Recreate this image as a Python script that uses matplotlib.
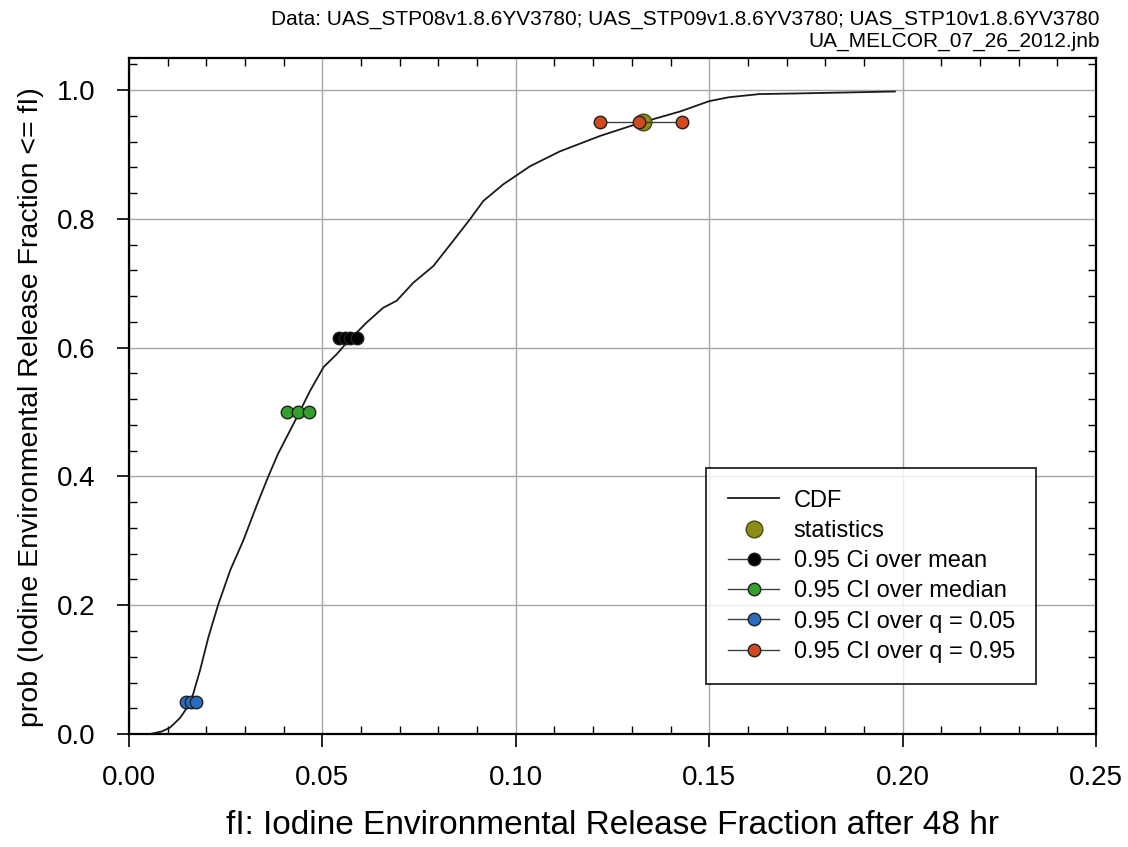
import matplotlib

matplotlib.use("Agg")
import matplotlib.pyplot as plt
from matplotlib.ticker import MultipleLocator

plt.rcParams["font.family"] = ["Liberation Sans", "DejaVu Sans"]

# CDF of iodine release fraction
cdf_x = [0.0054, 0.0085, 0.0106, 0.0132, 0.0160, 0.0184, 0.0205, 0.0230, 0.0262,
         0.0295, 0.0330, 0.0360, 0.0385, 0.0403, 0.0434, 0.0468, 0.0503, 0.0537,
         0.0563, 0.0614, 0.0657, 0.0692, 0.0735, 0.0787, 0.0838, 0.0882, 0.0916,
         0.0968, 0.1037, 0.1114, 0.1218, 0.1320, 0.1425, 0.1500, 0.1550, 0.1630,
         0.1730, 0.1980]
cdf_p = [0.000, 0.004, 0.010, 0.025, 0.050, 0.100, 0.150, 0.200, 0.255,
         0.300, 0.355, 0.400, 0.435, 0.456, 0.492, 0.533, 0.570, 0.590,
         0.608, 0.639, 0.662, 0.673, 0.701, 0.727, 0.766, 0.800, 0.828,
         0.854, 0.882, 0.905, 0.929, 0.949, 0.967, 0.983, 0.989, 0.994,
         0.995, 0.998]

# confidence intervals: x values at one probability level each
ci_mean_x = [0.0543, 0.0558, 0.0571, 0.0589]
ci_mean_p = 0.615
ci_median_x = [0.0409, 0.0438, 0.0466]
ci_median_p = 0.50
ci_q05_x = [0.0147, 0.0160, 0.0173]
ci_q05_p = 0.05
ci_q95_x = [0.1218, 0.1318, 0.1430]
ci_q95_p = 0.95

stat_x = [0.1329]
stat_p = [0.95]

fig = plt.figure(figsize=(11.28, 8.47), dpi=100)
ax = fig.add_axes([0.1144, 0.1334, 0.8572, 0.7981])

ax.plot(cdf_x, cdf_p, color="#1a1a1a", lw=1.3, label="CDF", zorder=3)
ax.plot(stat_x, stat_p, "o", color="#8c8c16", mec="#4a4a10", ms=12,
        label="statistics", zorder=4)

ci_sets = [
    (ci_mean_x, ci_mean_p, "black", "0.95 Ci over mean"),
    (ci_median_x, ci_median_p, "#33a02c", "0.95 CI over median"),
    (ci_q05_x, ci_q05_p, "#2a6cc0", "0.95 CI over q = 0.05"),
    (ci_q95_x, ci_q95_p, "#d0491f", "0.95 CI over q = 0.95"),
]
for xs, p, col, lab in ci_sets:
    ax.plot(xs, [p] * len(xs), "-o", color="#404040", lw=1.0, mfc=col,
            mec="#202020", ms=9, label=lab, zorder=5)

ax.set_xlim(0, 0.25)
ax.set_ylim(0, 1.05)
ax.xaxis.set_major_locator(MultipleLocator(0.05))
ax.xaxis.set_minor_locator(MultipleLocator(0.01))
ax.yaxis.set_minor_locator(MultipleLocator(0.04))
ax.set_yticks([0.0, 0.2, 0.4, 0.6, 0.8, 1.0])
ax.set_xticklabels([f"{v:.2f}" for v in ax.get_xticks()])
ax.set_yticklabels([f"{v:.1f}" for v in ax.get_yticks()])
ax.tick_params(which="major", direction="out", length=9, width=1.2,
               labelsize=20)
ax.tick_params(axis="x", which="major", pad=13)
ax.tick_params(axis="y", which="major", pad=15)
ax.tick_params(which="minor", direction="in", length=5.5, width=1.0,
               top=True, right=True)
ax.grid(True, which="major", color="#a8a8a8", lw=1.0)
ax.set_axisbelow(True)
for s in ax.spines.values():
    s.set_linewidth(1.6)

ax.set_xlabel("fI: Iodine Environmental Release Fraction after 48 hr",
              fontsize=24, labelpad=14)
ax.set_ylabel("prob (Iodine Environmental Release Fraction <= fI)",
              fontsize=20.5)
ax.yaxis.set_label_coords(-0.088, 0.484)

leg = ax.legend(loc="upper left", bbox_to_anchor=(0.597, 0.393), fontsize=17,
                frameon=True, fancybox=False, edgecolor="black",
                labelspacing=0.35, handlelength=2.2, borderpad=0.9,
                handletextpad=0.6, borderaxespad=0)
leg.get_frame().set_linewidth(1.4)

fig.text(0.975, 0.988,
         "Data: UAS_STP08v1.8.6YV3780; UAS_STP09v1.8.6YV3780; UAS_STP10v1.8.6YV3780",
         ha="right", va="top", fontsize=15)
fig.text(0.975, 0.963, "UA_MELCOR_07_26_2012.jnb", ha="right", va="top",
         fontsize=15)

fig.savefig("out.png", dpi=100)
